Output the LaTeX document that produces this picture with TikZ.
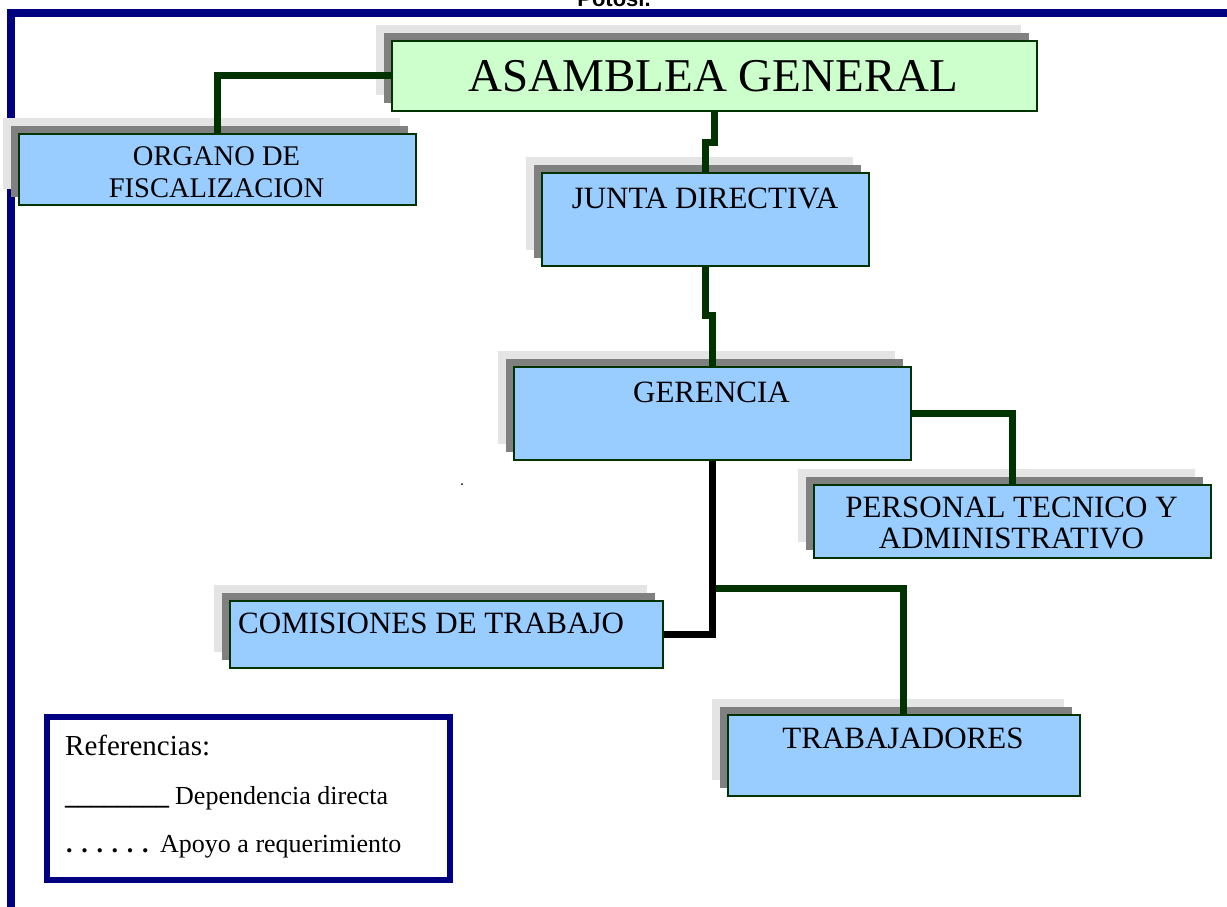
\documentclass[tikz,border=0pt]{standalone}
\usepackage{fontspec}
\setmainfont{Liberation Serif}
\newfontfamily\arialfont{Liberation Sans}
\usetikzlibrary{calc, shadows}
\definecolor{marco}{HTML}{000080}
\definecolor{verdelinea}{HTML}{003300}
\definecolor{celeste}{HTML}{99CCFF}
\definecolor{verdeclaro}{HTML}{CCFFCC}
\definecolor{grisoscuro}{HTML}{808080}
\definecolor{grisclaro}{HTML}{E4E4E4}

\begin{document}
\begin{tikzpicture}[x=1pt, y=-1pt,
    caja/.style={draw=verdelinea, line width=1.8pt, fill=celeste, anchor=north west, inner sep=0pt,
        general shadow={fill=grisclaro, draw=none, shadow xshift=-16pt, shadow yshift=16pt},
        general shadow={fill=grisoscuro, draw=none, shadow xshift=-8pt, shadow yshift=8pt}},
    texto/.style={font=\fontsize{31pt}{31pt}\selectfont, inner sep=0pt, anchor=base},
    conector/.style={draw=verdelinea, line width=7pt},
    legtexto/.style={font=\fontsize{26pt}{26pt}\selectfont, inner sep=0pt, anchor=base west}]
    \useasboundingbox (0,0) rectangle (1227,906);
    \clip (0,0) rectangle (1227,906);

    \node[font=\arialfont\bfseries\fontsize{22pt}{22pt}\selectfont, inner sep=0pt, anchor=base] (ciudad) at (614,6) {Potosí.};
    \draw[marco, line width=8pt] (11,920) -- (11,13) -- (1240,13);

    \node[caja, fill=verdeclaro, minimum width=645pt, minimum height=70pt] (asamblea) at (391,40) {};
    \node[caja, minimum width=397pt, minimum height=71pt] (organo) at (18,133) {};
    \node[caja, minimum width=327pt, minimum height=93pt] (junta) at (541,172) {};
    \node[caja, minimum width=397pt, minimum height=93pt] (gerencia) at (513,366) {};
    \node[caja, minimum width=397pt, minimum height=73pt] (personal) at (813,484) {};
    \node[caja, minimum width=433pt, minimum height=67pt] (comisiones) at (229,600) {};
    \node[caja, minimum width=352pt, minimum height=81pt] (trabajadores) at (727,714) {};

    \node[texto, font=\fontsize{47pt}{47pt}\selectfont] (asambleaT) at (713.5,91) {ASAMBLEA GENERAL};
    \node[texto, font=\fontsize{28.5pt}{32pt}\selectfont, align=center] (organoT) at (216.5,197) {ORGANO DE\\FISCALIZACION};
    \node[texto] (juntaT) at (705,208) {JUNTA DIRECTIVA};
    \node[texto] (gerenciaT) at (711.5,402) {GERENCIA};
    \node[texto, font=\fontsize{31pt}{31pt}\selectfont, align=center] (personalT) at (1011.5,548) {PERSONAL TECNICO Y\\ADMINISTRATIVO};
    \node[texto, anchor=base west] (comisionesT) at (238,633) {COMISIONES DE TRABAJO};
    \node[texto] (trabajadoresT) at (903,748) {TRABAJADORES};

    \coordinate (rama) at ($(gerencia.south)+(0,128)$);
    \draw[conector] (asamblea.west) -| (organo.north);
    \draw[conector] (asamblea.south) -- ++(0,31) -| (junta.north);
    \draw[conector] (junta.south) -- ++(0,49) -| (gerencia.north);
    \draw[conector] (gerencia.east) -| (personal.north);
    \draw[conector] (rama) -| (trabajadores.north);
    \draw[conector, draw=black] (gerencia.south) |- (comisiones.east);

    \fill (462,484) circle (1pt);

    \node[draw=marco, line width=5.5pt, minimum width=403pt, minimum height=163pt, anchor=north west, inner sep=0pt] (leyenda) at (44,714) {};
    \node[legtexto, font=\fontsize{29pt}{29pt}\selectfont] (referenciasT) at (65,755) {Referencias:};
    \node[legtexto] (lineaT) at (65,804) {\textbf{\_\_\_\_\_\_\_\_}};
    \node[legtexto] (directaT) at (175,804) {Dependencia directa};
    \node[legtexto] (puntosT) at (66,852) {\textbf{. . . . . .}};
    \node[legtexto] (apoyoT) at (160,852) {Apoyo a requerimiento};
\end{tikzpicture}
\end{document}
